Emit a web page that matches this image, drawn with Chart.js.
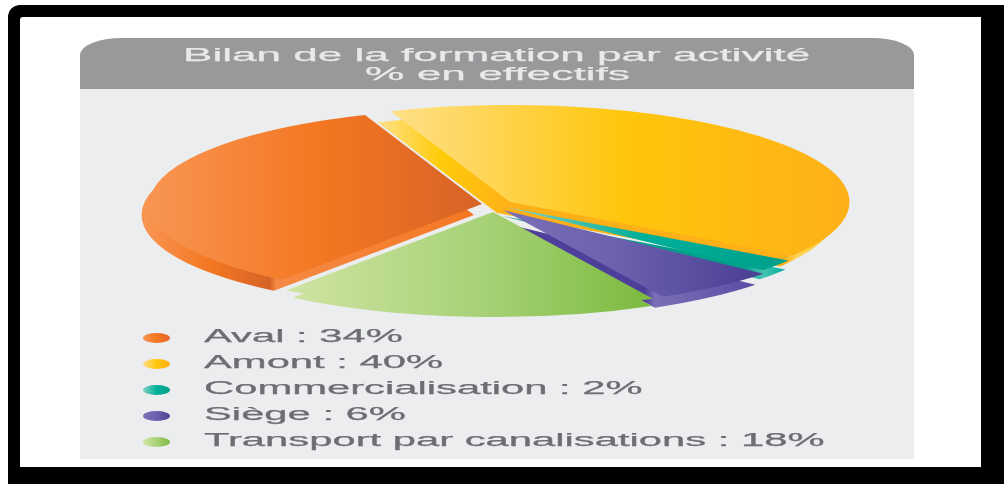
<!DOCTYPE html>
<html lang="fr">
<head>
<meta charset="utf-8">
<title>Bilan de la formation par activité</title>
<script src="https://cdn.jsdelivr.net/npm/chart.js@4/dist/chart.umd.min.js"></script>
<style>
  html, body { margin: 0; padding: 0; background: #fff; overflow: hidden; }
  #page { position: relative; width: 1004px; height: 484px; overflow: hidden; background: #fff; }
  #frame { position: absolute; left: 8px; top: 5px; width: 1010px; height: 495px; background: #000; border-radius: 12px; }
  #sheet { position: absolute; left: 20px; top: 17px; width: 961px; height: 450px; background: #fff; border-radius: 3px 0 0 0; }
  #panel { position: absolute; left: 80px; top: 89px; width: 834px; height: 370px; background: #ecedef; }
  #header { position: absolute; left: 80px; top: 38px; width: 834px; height: 51px; background: #98999b; border-radius: 42px 42px 0 0 / 17px 17px 0 0; }
  canvas { position: absolute; left: 0; top: 0; }
  .line { position: absolute; white-space: pre; font-family: "Liberation Sans", Arial, sans-serif; transform-origin: 0 50%; line-height: 20px; height: 20px; -webkit-text-stroke: 0.25px currentColor; }
  .head { color: #e8e9ea; font-size: 19px; }
  .item { color: #6d6e71; font-size: 18px; }
  .dot { position: absolute; width: 27px; height: 10px; border-radius: 50%; }
</style>
</head>
<body>
<div id="page">
  <div id="frame"></div>
  <div id="sheet"></div>
  <div id="panel"></div>
  <div id="header"></div>
  <canvas id="sideLayer" width="1004" height="484"></canvas>
  <canvas id="topLayer" width="1004" height="484"></canvas>
</div>
<script>
const titleLines = ['Bilan de la formation par activité', '% en effectifs'];
const categories = ['Aval', 'Amont', 'Commercialisation', 'Siège', 'Transport par canalisations'];
const shares = [34, 40, 2, 6, 18];

// Presentation: top-face and side-face shading as [page x, colour] stops.
const topShades = [
  [[150, '#f89552'], [320, '#f47721'], [480, '#d66327']],
  [[385, '#fee08c'], [625, '#ffc60b'], [850, '#fdb018']],
  [[510, '#86d0c2'], [640, '#00b09b'], [780, '#00a08b']],
  [[500, '#7b70b7'], [620, '#6a60ad'], [745, '#4e4297']],
  [[285, '#cfe4a3'], [480, '#a8d277'], [645, '#7dbb42']]
];
const sideShades = [
  [[145, '#f89552'], [210, '#f47721'], [270, '#d66327'], [276, '#f58a45'], [480, '#f47721']],
  [[378, '#ffe08c'], [440, '#ffcc0a'], [510, '#fdb018'], [785, '#fdb018'], [797, '#ffd45c'], [850, '#fdc010']],
  [[745, '#00a08b'], [762, '#48c2b2'], [785, '#00b09b']],
  [[495, '#4e409a'], [645, '#4e409a'], [655, '#7b70b7'], [750, '#5a4fa5']],
  [[285, '#cfe4a3'], [480, '#a8d277'], [645, '#7dbb42']]
];
const markerShades = [
  ['#f89552', '#f47721', '#e5692a'],
  ['#fee08c', '#ffc60b', '#fdb018'],
  ['#86d0c2', '#00b09b', '#00a08b'],
  ['#7b70b7', '#6a60ad', '#4e4297'],
  ['#cfe4a3', '#a8d277', '#7dbb42']
];
// Where each exploded slice has its tip on the page, and how far it reaches.
const topTips = [[482, 204], [510, 202], [505, 207], [503, 210], [493, 212]];
const sideTips = [[474, 215], [497, 213], [502, 216], [495, 221], [495, 221]];
const topRadii = [95, 97, 97, 98, 98];
const sideRadii = [95, 97, 97, 98, 96];
const centerX = 490, centerY = 206, stretchX = 3.5;

const toUserX = (x) => centerX + (x - centerX) / stretchX;

function shadeFor(stops) {
  return (context) => {
    const list = stops[context.dataIndex];
    const first = list[0][0], last = list[list.length - 1][0];
    const g = context.chart.ctx.createLinearGradient(toUserX(first), 0, toUserX(last), 0);
    list.forEach(([x, c]) => g.addColorStop((x - first) / (last - first), c));
    return g;
  };
}

// Squash the round pie into a flat ellipse and pull every slice out to its own tip.
function flatten(tips, radii) {
  return {
    id: 'flatten',
    afterDatasetsUpdate(chart) {
      chart.getDatasetMeta(0).data.forEach((arc, i) => {
        arc.x = toUserX(tips[i][0]);
        arc.y = tips[i][1];
        arc.outerRadius = radii[i];
      });
    },
    beforeDatasetsDraw(chart) {
      const c = chart.ctx;
      c.save();
      c.translate(centerX, centerY);
      c.scale(stretchX, 1);
      c.translate(-centerX, -centerY);
    },
    afterDatasetsDraw(chart) { chart.ctx.restore(); }
  };
}

function buildPie(id, stops, tips, radii) {
  return new Chart(document.getElementById(id), {
    type: 'pie',
    data: {
      labels: categories,
      datasets: [{
        data: shares,
        backgroundColor: shadeFor(stops),
        borderWidth: 0,
        clip: false
      }]
    },
    options: {
      responsive: false,
      animation: false,
      rotation: 217,
      plugins: { legend: { display: false }, tooltip: { enabled: false } }
    },
    plugins: [flatten(tips, radii)]
  });
}
buildPie('sideLayer', sideShades, sideTips, sideRadii);
buildPie('topLayer', topShades, topTips, topRadii);

// Title and legend, stretched wide like the rest of the panel.
const page = document.getElementById('page');
function addLine(text, cls, left, midY, scaleX) {
  const el = document.createElement('div');
  el.className = 'line ' + cls;
  el.textContent = text;
  el.style.left = left + 'px';
  el.style.top = (midY - 10) + 'px';
  el.style.transform = 'scaleX(' + scaleX + ')';
  page.appendChild(el);
}
addLine(titleLines[0], 'head', 183, 55, 2.32);
addLine(titleLines[1], 'head', 365, 74, 2.33);
categories.forEach((name, i) => {
  const midY = 336 + i * 26;
  addLine(name + ' : ' + shares[i] + '%', 'item', 204, midY, 2.32);
  const dot = document.createElement('div');
  dot.className = 'dot';
  dot.style.left = '143px';
  dot.style.top = (midY - 3) + 'px';
  dot.style.background = 'linear-gradient(90deg,' + markerShades[i].join(',') + ')';
  page.appendChild(dot);
});
</script>
</body>
</html>
